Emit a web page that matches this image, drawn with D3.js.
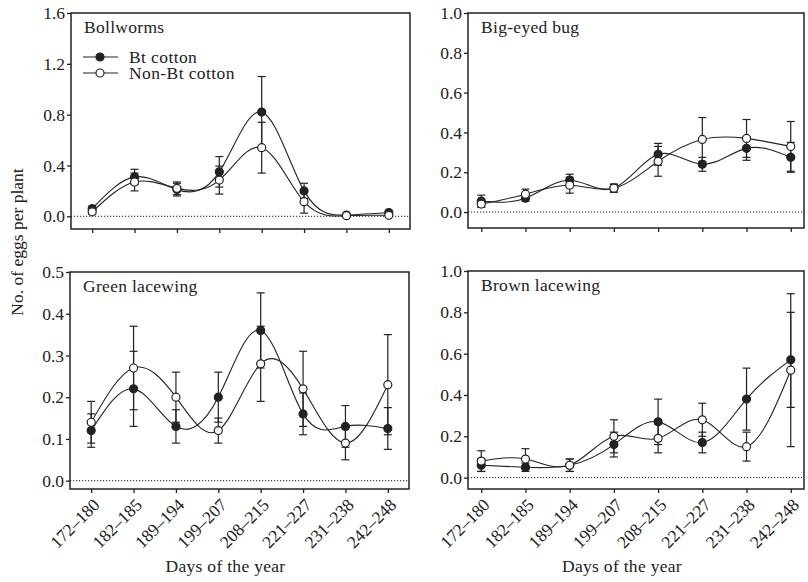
<!DOCTYPE html>
<html>
<head>
<meta charset="utf-8">
<script src="https://cdn.jsdelivr.net/npm/d3@7"></script>
<style>
  body { margin: 0; background: #fff; }
  svg text { font-family: "Liberation Serif", "Times New Roman", serif; fill: #222; }
</style>
</head>
<body>
<svg id="chart" width="808" height="582"></svg>
<script>
// x categories (days of the year)
var days = ["172\u2013180", "182\u2013185", "189\u2013194", "199\u2013207", "208\u2013215", "221\u2013227", "231\u2013238", "242\u2013248"];

// Bollworms
var bollBt = [0.06, 0.31, 0.21, 0.35, 0.82, 0.20, 0.01, 0.03];
var bollBtSE = [0.02, 0.06, 0.05, 0.12, 0.28, 0.06, 0.01, 0.01];
var bollNon = [0.035, 0.27, 0.22, 0.285, 0.54, 0.115, 0.005, 0.008];
var bollNonSE = [0.02, 0.07, 0.05, 0.11, 0.20, 0.09, 0.005, 0.005];

// Big-eyed bug
var bugBt = [0.055, 0.07, 0.16, 0.12, 0.29, 0.24, 0.32, 0.275];
var bugBtSE = [0.03, 0.015, 0.03, 0.02, 0.055, 0.035, 0.06, 0.075];
var bugNon = [0.04, 0.09, 0.135, 0.12, 0.255, 0.365, 0.37, 0.33];
var bugNonSE = [0.015, 0.025, 0.04, 0.02, 0.075, 0.11, 0.095, 0.125];

// Green lacewing
var greenBt = [0.12, 0.22, 0.13, 0.20, 0.36, 0.16, 0.13, 0.125];
var greenBtSE = [0.04, 0.09, 0.04, 0.06, 0.09, 0.05, 0.05, 0.05];
var greenNon = [0.14, 0.27, 0.20, 0.12, 0.28, 0.22, 0.09, 0.23];
var greenNonSE = [0.05, 0.10, 0.06, 0.03, 0.09, 0.09, 0.04, 0.12];

// Brown lacewing
var brownBt = [0.06, 0.05, 0.06, 0.16, 0.27, 0.17, 0.38, 0.57];
var brownBtSE = [0.03, 0.02, 0.03, 0.06, 0.11, 0.05, 0.15, 0.23];
var brownNon = [0.08, 0.09, 0.06, 0.20, 0.19, 0.28, 0.15, 0.52];
var brownNonSE = [0.05, 0.05, 0.03, 0.08, 0.07, 0.08, 0.07, 0.37];

var panels = [
  {title: "Bollworms", box: [71, 410, 13, 229], pad: 0.5, dom: [-0.1, 1.6], ticks: [0, 0.4, 0.8, 1.2, 1.6],
   bt: bollBt, btSE: bollBtSE, non: bollNon, nonSE: bollNonSE, legend: true, xlab: false},
  {title: "Big-eyed bug", box: [468, 804, 13, 228], pad: 0.3, dom: [-0.08, 1.0], ticks: [0, 0.2, 0.4, 0.6, 0.8, 1.0],
   bt: bugBt, btSE: bugBtSE, non: bugNon, nonSE: bugNonSE, legend: false, xlab: false},
  {title: "Green lacewing", box: [70, 409, 272, 489], pad: 0.5, dom: [-0.02, 0.5], ticks: [0, 0.1, 0.2, 0.3, 0.4, 0.5],
   bt: greenBt, btSE: greenBtSE, non: greenNon, nonSE: greenNonSE, legend: false, xlab: true},
  {title: "Brown lacewing", box: [468, 804, 271, 489], pad: 0.3, dom: [-0.055, 1.0], ticks: [0, 0.2, 0.4, 0.6, 0.8, 1.0],
   bt: brownBt, btSE: brownBtSE, non: brownNon, nonSE: brownNonSE, legend: false, xlab: true}
];

var svg = d3.select("#chart");
var ink = "#222";
var fs = 17.5;

panels.forEach(function(p) {
  var x0 = p.box[0], x1 = p.box[1], y0 = p.box[2], y1 = p.box[3];
  var x = d3.scalePoint().domain(days).range([x0, x1]).padding(p.pad);
  var y = d3.scaleLinear().domain(p.dom).range([y1, y0]);
  var g = svg.append("g");

  // zero reference line
  g.append("line")
    .attr("x1", x0).attr("x2", x1)
    .attr("y1", y(0)).attr("y2", y(0))
    .attr("stroke", ink).attr("stroke-width", 1)
    .attr("stroke-dasharray", "1.2,1.8");

  // y axis
  var ya = d3.axisLeft(y).tickValues(p.ticks).tickFormat(d3.format(".1f")).tickSize(4).tickPadding(2);
  var yg = g.append("g").attr("transform", "translate(" + x0 + ",0)").call(ya);
  yg.select(".domain").remove();
  yg.selectAll("line").attr("stroke", ink).attr("stroke-width", 1.3);
  yg.selectAll("text").style("font-size", fs + "px").attr("fill", ink)
    .style("font-family", "'Liberation Serif', serif");

  // x axis
  var xa = d3.axisBottom(x).tickSize(4).tickFormat(p.xlab ? null : "");
  var xg = g.append("g").attr("transform", "translate(0," + y1 + ")").call(xa);
  xg.select(".domain").remove();
  xg.selectAll("line").attr("stroke", ink).attr("stroke-width", 1.3);
  xg.selectAll("text")
    .style("font-size", fs + "px").attr("fill", ink)
    .style("font-family", "'Liberation Serif', serif")
    .attr("text-anchor", "end")
    .attr("dy", null).attr("y", null)
    .attr("transform", "translate(9,17) rotate(-45)");

  var line = d3.line()
    .x(function(d, i) { return x(days[i]); })
    .y(function(d) { return y(d); })
    .curve(d3.curveNatural);

  [[p.bt, p.btSE], [p.non, p.nonSE]].forEach(function(s) {
    var vals = s[0], se = s[1];
    g.append("path").datum(vals)
      .attr("d", line).attr("fill", "none")
      .attr("stroke", ink).attr("stroke-width", 1.1);
    var eb = g.append("g");
    vals.forEach(function(v, i) {
      var cx = x(days[i]);
      eb.append("line").attr("x1", cx).attr("x2", cx)
        .attr("y1", y(v - se[i])).attr("y2", y(v + se[i]));
      [v - se[i], v + se[i]].forEach(function(e) {
        eb.append("line").attr("x1", cx - 4).attr("x2", cx + 4)
          .attr("y1", y(e)).attr("y2", y(e));
      });
    });
    eb.selectAll("line").attr("stroke", ink).attr("stroke-width", 1.2);
  });

  [[p.bt, ink], [p.non, "#fff"]].forEach(function(s) {
    g.append("g").selectAll("circle").data(s[0]).enter().append("circle")
      .attr("cx", function(d, i) { return x(days[i]); })
      .attr("cy", function(d) { return y(d); })
      .attr("r", 4)
      .attr("fill", s[1]).attr("stroke", ink).attr("stroke-width", 1.2);
  });

  // frame
  g.append("rect")
    .attr("x", x0).attr("y", y0)
    .attr("width", x1 - x0).attr("height", y1 - y0)
    .attr("fill", "none").attr("stroke", ink).attr("stroke-width", 1.5);

  g.append("text").attr("x", x0 + 13).attr("y", y0 + 20)
    .style("font-size", fs + "px").style("letter-spacing", "0.3px").text(p.title);

  if (p.legend) {
    var lg = [["Bt cotton", ink, 57], ["Non-Bt cotton", "#fff", 73]];
    lg.forEach(function(l) {
      g.append("line").attr("x1", x0 + 12).attr("x2", x0 + 47)
        .attr("y1", l[2]).attr("y2", l[2])
        .attr("stroke", ink).attr("stroke-width", 1.1);
      g.append("circle").attr("cx", x0 + 29).attr("cy", l[2]).attr("r", 4)
        .attr("fill", l[1]).attr("stroke", ink).attr("stroke-width", 1.2);
      g.append("text").attr("x", x0 + 58).attr("y", l[2] + 5.5)
        .style("font-size", fs + "px").style("letter-spacing", "0.4px").text(l[0]);
    });
  }

  if (p.xlab) {
    g.append("text").attr("x", (x0 + x1) / 2 - 14).attr("y", 572)
      .attr("text-anchor", "middle")
      .style("font-size", fs + "px").style("letter-spacing", "0.3px").text("Days of the year");
  }
});

svg.append("text")
  .attr("transform", "translate(23,242) rotate(-90)")
  .attr("text-anchor", "middle")
  .style("font-size", fs + "px")
  .text("No. of eggs per plant");
</script>
</body>
</html>
